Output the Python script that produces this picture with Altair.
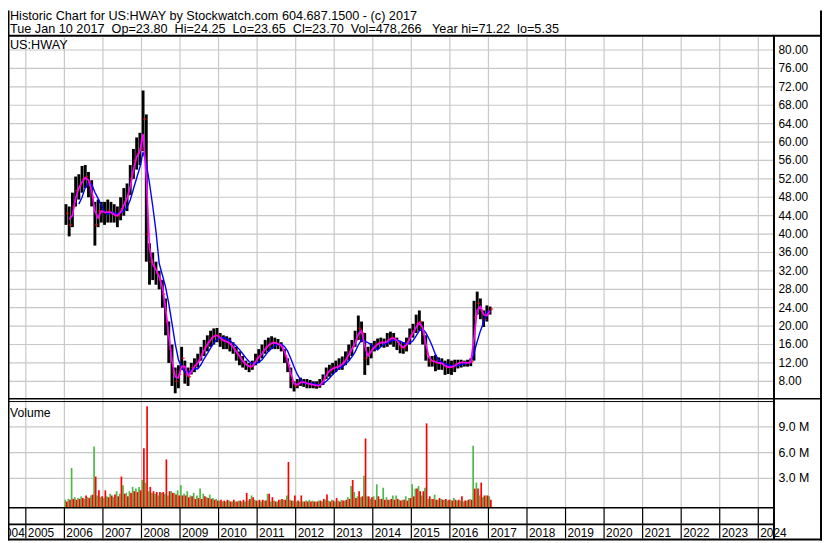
import altair as alt
import pandas as pd

# ---------------- data (monthly, Jan 2006 .. Jan 2017) ----------------
months = pd.period_range("2006-01", "2017-01", freq="M")

high = [
    46.5, 46, 49, 52.5, 53, 54.8, 55, 53.5, 51.7, 47, 47.5, 47,          # 2006
    47, 47.5, 47, 46.5, 46, 48, 50, 51, 55, 58.5, 61, 62,                 # 2007
    71.2, 66, 38, 36, 34, 32, 30, 26, 21, 16, 11, 11.5,                   # 2008
    15.5, 12.5, 11, 12, 13, 14, 15.5, 17, 18, 19, 19.5, 19.6,             # 2009
    18.5, 18, 17.8, 17.5, 16.5, 15.5, 14.5, 13.5, 12.5, 12, 12.5, 14,     # 2010
    15, 16, 17, 17.5, 17.8, 17.5, 17.2, 16.5, 15, 13, 11, 8,              # 2011
    8.5, 8.8, 8.5, 8.5, 8.3, 8, 8, 8.5, 9.5, 11, 11.6, 12,                # 2012
    12.5, 13, 13.4, 14.5, 16, 17, 19, 22.3, 21, 18.5, 15.5, 16.3,         # 2013
    16.8, 17.3, 17.5, 17.3, 18.5, 18.8, 18.5, 17.5, 16.6, 16.5, 17.5, 19.5,  # 2014
    20.5, 22.5, 23.4, 21, 18, 13.4, 13.5, 13.7, 13.2, 13, 12.5, 12.8,     # 2015
    12.5, 12.7, 12.7, 12.7, 12.5, 12.7, 13, 25.5, 27.5, 26, 23.4, 24.5,   # 2016
    24.25,                                                                # 2017
]
low = [
    42, 39.5, 41.5, 46, 47.5, 49, 50, 48, 46, 37.5, 41.5, 42.5,
    42, 42.5, 42.5, 42.5, 41.5, 43, 44, 45, 48.5, 52, 54, 55,
    58, 34, 29, 30, 29, 28, 24, 18, 12, 7, 5.4, 6.5,
    10.5, 7.5, 7, 9.5, 10, 11, 12.5, 13.5, 14.5, 15.5, 16, 16.5,
    15.5, 15, 15, 14.5, 14, 12.5, 11.5, 11, 10.5, 10, 10.5, 11.5,
    12, 13, 14, 14.5, 15, 15, 15, 14.5, 12, 10, 6.5, 5.8,
    6.5, 7, 6.8, 6.5, 6.5, 6.5, 6.4, 6.6, 7.2, 8.5, 9, 9.5,
    10, 10.5, 10.5, 11.5, 12.5, 13.5, 15.5, 17, 16.5, 9.4, 11.5, 13,
    14.5, 15, 15.5, 15.3, 15.5, 16, 15.5, 14.8, 14.1, 14, 14.5, 16,
    17.5, 18.5, 19, 16, 12.5, 11.2, 11.2, 10.2, 10.5, 10.5, 9.4, 9.6,
    9.4, 10, 10.8, 11, 11.2, 11.2, 11.3, 12.5, 22.5, 21.5, 19.8, 21,
    22.5,
]
close = [
    44.5, 42, 46, 49.5, 50.5, 52, 52.5, 51, 48, 42, 45, 45,
    44.5, 45, 44.5, 44, 44, 45.5, 47, 48.5, 52, 56, 57.5, 58.5,
    65, 40, 34, 33, 31.5, 30, 27, 21, 15, 10, 8, 9.5,
    13, 9.5, 9, 11, 11.5, 12.5, 14, 15.5, 16.5, 17.5, 18, 18,
    17, 16.8, 16.5, 16, 15, 14, 13, 12, 11.5, 11, 11.5, 13,
    13.5, 14.5, 15.5, 16, 16.5, 16.3, 16, 15.5, 13.5, 11.5, 8, 7,
    7.5, 8, 7.7, 7.5, 7.3, 7.2, 7, 7.3, 8.5, 10, 10.5, 11,
    11, 11.5, 12, 13, 14.5, 15.5, 17, 19.5, 18.5, 13, 14, 15,
    15.8, 16.3, 16.5, 16.3, 17, 17.5, 17.3, 16.5, 15.3, 15.3, 16.5, 18,
    19, 20.5, 21, 18.5, 14, 12.3, 12.5, 12, 12, 11.8, 11, 11.2,
    11, 11.8, 12, 12.2, 12, 12, 12.3, 22, 25, 23.5, 21.5, 23,
    23.7,
]
# peak daily volume (millions) on up days / down days within each month
vol_up = [
    0.5, 0.6, 4.2, 0.8, 0.7, 0.9, 0.6, 0.8, 1.0, 6.7, 1.0, 0.8,
    0.7, 0.9, 1.2, 0.8, 1.5, 1.2, 2.2, 1.3, 1.5, 2.0, 1.8, 2.0,
    2.8, 2.5, 1.5, 1.3, 1.2, 1.0, 1.3, 1.2, 1.0, 1.5, 1.3, 1.6,
    2.2, 1.2, 1.5, 1.0, 1.3, 1.0, 1.8, 1.2, 0.8, 1.1, 0.7, 0.6,
    0.4, 0.3, 0.3, 0.4, 0.3, 0.3, 0.4, 0.3, 0.3, 0.4, 1.0, 0.5,
    0.4, 0.3, 0.4, 1.2, 0.3, 0.4, 0.3, 0.5, 0.5, 1.0, 0.5, 0.4,
    0.3, 0.3, 0.3, 0.4, 0.5, 0.4, 0.3, 0.4, 0.3, 0.5, 0.4, 0.5,
    0.3, 0.4, 0.5, 0.4, 0.8, 2.1, 1.4, 0.9, 0.8, 3.3, 0.9, 0.6,
    0.9, 2.3, 0.6, 1.9, 0.8, 0.5, 1.0, 1.0, 0.5, 0.5, 0.9, 0.7,
    2.3, 1.8, 2.1, 1.0, 1.9, 0.6, 0.6, 1.1, 0.5, 0.6, 0.5, 0.4,
    0.5, 0.7, 0.4, 0.4, 0.3, 0.4, 0.6, 6.8, 2.5, 1.0, 0.8, 1.0,
    0.9,
]
vol_down = [
    0.3, 0.5, 0.6, 0.5, 0.6, 0.7, 1.0, 0.7, 1.1, 3.2, 1.6, 0.9,
    1.6, 0.8, 1.0, 1.1, 0.9, 3.2, 1.2, 0.9, 1.3, 1.5, 1.4, 1.6,
    6.5, 11.4, 2.0, 1.5, 1.4, 1.4, 1.4, 5.2, 1.5, 1.3, 1.1, 1.0,
    1.0, 1.0, 0.8, 0.9, 0.6, 0.7, 0.6, 0.9, 0.7, 0.6, 0.5, 0.4,
    0.5, 0.4, 0.5, 0.3, 0.5, 0.3, 0.4, 0.5, 1.3, 0.6, 0.8, 0.4,
    0.5, 0.5, 0.4, 1.2, 0.8, 0.3, 0.5, 0.6, 0.5, 4.9, 0.4, 1.0,
    0.4, 1.0, 0.3, 0.3, 0.3, 0.3, 0.3, 0.4, 0.6, 1.1, 0.3, 0.4,
    0.7, 0.3, 0.4, 0.5, 0.6, 2.8, 0.7, 1.5, 0.9, 7.65, 0.9, 0.8,
    0.5, 0.9, 0.6, 0.5, 0.5, 0.6, 0.5, 0.6, 0.4, 0.5, 0.4, 0.7,
    0.9, 1.8, 1.5, 1.5, 9.4, 0.9, 0.6, 0.5, 0.7, 0.5, 0.6, 0.5,
    0.4, 0.5, 0.5, 0.9, 0.4, 0.5, 0.5, 1.8, 1.8, 2.5, 1.0, 1.0,
    0.5,
]

price_ticks = [8, 12, 16, 20, 24, 28, 32, 36, 40, 44, 48, 52, 56, 60, 64, 68, 72, 76, 80]
vol_ticks = [3, 6, 9]
years = list(range(2005, 2025))
first_year_label = "2004"

header1 = "Historic Chart for US:HWAY by Stockwatch.com 604.687.1500 - (c) 2017"
header2 = ("Tue Jan 10 2017\u00a0\u00a0Op=23.80\u00a0\u00a0Hi=24.25\u00a0\u00a0Lo=23.65\u00a0\u00a0"
           "Cl=23.70\u00a0\u00a0Vol=478,266\u00a0\u00a0\u00a0Year hi=71.22\u00a0\u00a0lo=5.35")
symbol = "US:HWAY"
vol_title = "Volume"

# ---------------- tables ----------------
t_mid = [p.year + (p.month - 0.5) / 12 for p in months]
price_df = pd.DataFrame({"t": t_mid, "high": high, "low": low, "close": close})

vol_df = pd.concat([
    pd.DataFrame({"t": [p.year + (p.month - 0.75) / 12 for p in months], "vol": vol_up, "dir": "up"}),
    pd.DataFrame({"t": [p.year + (p.month - 0.25) / 12 for p in months], "vol": vol_down, "dir": "down"}),
], ignore_index=True)
vol_df["base"] = -0.37

ptick_df = pd.DataFrame({"v": price_ticks})
vtick_df = pd.DataFrame({"v": vol_ticks})
year_df = pd.DataFrame({"yr": years, "label": [str(y) for y in years]})
one = pd.DataFrame({"a": [0]})

# ---------------- layout ----------------
W, H = 822, 535
PR = 773                       # right edge of plotting area
TOP = 27                       # top of price panel (internal px)
FONT = "Liberation Sans"
GRID = "#c8c8c8"

xs = alt.Scale(domain=[2004.5376, 2024.394], range=[0, PR], nice=False, zero=False)
ys_p = alt.Scale(domain=[4.21, 82.75], range=[392, TOP], nice=False, zero=False)
ys_v = alt.Scale(domain=[-0.37, 11.98], range=[501.5, 394.5], nice=False, zero=False)

X = lambda f: alt.X(f, scale=xs, axis=None)


def rule(x1, x2, y1, y2, w=1.0, color="black"):
    return alt.Chart(one).mark_rule(color=color, strokeWidth=w).encode(
        x=alt.value(x1), x2=alt.value(x2), y=alt.value(y1), y2=alt.value(y2))


def label(text, x, y, size=12.0, align="left"):
    return alt.Chart(pd.DataFrame({"s": [text]})).mark_text(
        font=FONT, fontSize=size, align=align, baseline="alphabetic", color="black"
    ).encode(text="s:N", x=alt.value(x), y=alt.value(y))


layers = []

# grid
layers.append(alt.Chart(ptick_df).mark_rule(color=GRID, strokeWidth=1.2).encode(
    y=alt.Y("v:Q", scale=ys_p, axis=None), x=alt.value(0), x2=alt.value(PR)))
layers.append(alt.Chart(vtick_df).mark_rule(color=GRID, strokeWidth=1.2).encode(
    y=alt.Y("v:Q", scale=ys_v, axis=None), x=alt.value(0), x2=alt.value(PR)))
layers.append(alt.Chart(year_df).mark_rule(color=GRID, strokeWidth=1.2).encode(
    x=X("yr:Q"), y=alt.value(TOP), y2=alt.value(501.5)))

# price high-low bars
layers.append(alt.Chart(price_df).mark_rule(color="black", strokeWidth=2.9).encode(
    x=X("t:Q"), y=alt.Y("low:Q", scale=ys_p, axis=None), y2="high:Q"))
# close ticks
layers.append(alt.Chart(price_df).mark_tick(color="#ff0000", orient="horizontal", size=3,
                                            thickness=1.6, xOffset=1.5).encode(
    x=X("t:Q"), y=alt.Y("close:Q", scale=ys_p, axis=None)))
# moving averages
layers.append(alt.Chart(price_df).transform_window(
    ma="mean(close)", n="count()", frame=[-4, 0], sort=[alt.SortField("t")]
).transform_filter("datum.n >= 5").mark_line(color="#0000ff", strokeWidth=1.4).encode(
    x=X("t:Q"), y=alt.Y("ma:Q", scale=ys_p, axis=None)))
layers.append(alt.Chart(price_df).transform_window(
    ma="mean(close)", n="count()", frame=[-1, 0], sort=[alt.SortField("t")]
).transform_filter("datum.n >= 2").mark_line(color="#ff00ff", strokeWidth=1.7).encode(
    x=X("t:Q"), y=alt.Y("ma:Q", scale=ys_p, axis=None)))

# volume bars
layers.append(alt.Chart(vol_df).mark_rule(strokeWidth=1.7).encode(
    x=X("t:Q"), y=alt.Y("vol:Q", scale=ys_v, axis=None), y2="base:Q",
    color=alt.Color("dir:N", scale=alt.Scale(domain=["up", "down"], range=["#4cb848", "#ff0000"]),
                    legend=None)))

# right-hand labels
layers.append(alt.Chart(ptick_df).mark_text(font=FONT, fontSize=12, align="left", baseline="middle",
                                            color="black").encode(
    y=alt.Y("v:Q", scale=ys_p, axis=None), x=alt.value(778), text=alt.Text("v:Q", format=".2f")))
layers.append(alt.Chart(vtick_df).transform_calculate(
    lab="format(datum.v, '.1f') + ' M'").mark_text(font=FONT, fontSize=12.5, align="left",
                                                    baseline="middle", color="black").encode(
    y=alt.Y("v:Q", scale=ys_v, axis=None), x=alt.value(778), text="lab:N"))

# year boxes and labels
layers.append(alt.Chart(year_df).mark_rule(color="black", strokeWidth=1.2).encode(
    x=X("yr:Q"), y=alt.value(502), y2=alt.value(533)))
layers.append(alt.Chart(year_df).mark_text(font=FONT, fontSize=12, align="left", baseline="alphabetic",
                                           dx=2, color="black").encode(
    x=X("yr:Q"), y=alt.value(531.5), text="label:N"))
layers.append(alt.Chart(pd.DataFrame({"yr": [years[0]], "label": [first_year_label]})).mark_text(
    font=FONT, fontSize=12, align="right", baseline="alphabetic", dx=-1, color="black").encode(
    x=X("yr:Q"), y=alt.value(531.5), text="label:N"))

# frame lines
layers += [
    rule(0, W, TOP - 1.5, TOP - 1.5, 2),  # header separator
    rule(0, W, 392, 392, 1.5),        # price panel bottom
    rule(0, PR, 394.8, 394.8, 1),     # volume panel top
    rule(0, PR, 502, 502, 1.6),       # volume panel bottom
    rule(0, PR, 518.8, 518.8, 1.6),   # tick row bottom
    rule(0, W, 534, 534, 2),          # bottom frame
    rule(0.75, 0.75, 0, H, 1.5),      # left frame
    rule(PR + 0.5, PR + 0.5, TOP - 1.5, 534, 2),  # label column
    rule(W - 1, W - 1, 0, H, 2),      # right frame
]

# texts
layers += [
    label(header1, 2, 9.5, 12.8),
    label(header2, 2, 22.3, 12.8),
    label(symbol, 2, 39, 12.8),
    label(vol_title, 2, 410, 12.3),
]

chart = alt.layer(*layers).resolve_scale(y="independent").properties(
    width=W, height=H, padding=0, autosize=alt.AutoSizeParams(type="none"), background="white"
).configure_view(stroke=None)

chart.save("out.html", embed_options={"renderer": "svg", "actions": False})
